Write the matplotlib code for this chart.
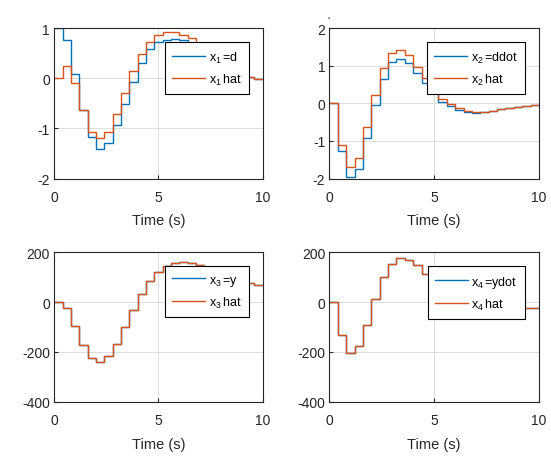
import matplotlib
matplotlib.use('Agg')
from matplotlib import pyplot as plt

plt.rcParams['font.family'] = ['Liberation Sans', 'DejaVu Sans']
plt.rcParams['axes.unicode_minus'] = False
plt.rcParams['mathtext.fontset'] = 'custom'
plt.rcParams['mathtext.rm'] = 'Liberation Sans'
plt.rcParams['mathtext.it'] = 'Liberation Sans'

# sample instants (s), step edges for the stairs
t_edges = [0.0, 0.4, 0.8, 1.2, 1.6, 2.0, 2.4, 2.8, 3.2, 3.6, 4.0, 4.4, 4.8,
           5.2, 5.6, 6.0, 6.4, 6.8, 7.2, 7.6, 8.0, 8.4, 8.8, 9.2, 9.6, 10.0]

# x1 = d and its estimate
x1 = [1.0, 0.76, 0.09, -0.64, -1.17, -1.41, -1.29, -0.94, -0.52, -0.07, 0.31, 0.59,
      0.73, 0.77, 0.78, 0.77, 0.70, 0.60, 0.50, 0.40, 0.30, 0.20, 0.11, 0.02, -0.01]
x1_hat = [0.0, 0.25, -0.09, -0.64, -1.08, -1.20, -1.07, -0.72, -0.29, 0.14, 0.49, 0.73,
          0.87, 0.93, 0.92, 0.87, 0.80, 0.68, 0.56, 0.44, 0.32, 0.20, 0.11, 0.02, -0.01]

# x2 = ddot and its estimate
x2 = [0.0, -1.26, -1.96, -1.74, -0.93, -0.05, 0.65, 1.09, 1.18, 1.07, 0.82, 0.54,
      0.28, 0.05, -0.08, -0.17, -0.23, -0.25, -0.23, -0.20, -0.16, -0.13, -0.10, -0.07, -0.04]
x2_hat = [0.0, -1.12, -1.70, -1.44, -0.63, 0.23, 0.95, 1.33, 1.42, 1.30, 0.98, 0.68,
          0.45, 0.12, -0.02, -0.13, -0.20, -0.23, -0.22, -0.19, -0.16, -0.13, -0.10, -0.07, -0.04]

# x3 = y and its estimate
x3 = [0, -25, -96, -172, -224, -239, -217, -167, -100, -32, 32, 84,
      120, 147, 157, 161, 158, 149, 139, 127, 115, 103, 90, 78, 68]
x3_hat = [0, -25, -96, -172, -224, -239, -217, -167, -100, -32, 32, 84,
          120, 147, 157, 161, 158, 149, 139, 127, 115, 103, 90, 78, 68]

# x4 = ydot and its estimate
x4 = [0, -131, -203, -176, -91, 13, 101, 155, 179, 169, 148, 113,
      75, 40, 12, -8, -20, -26, -29, -30, -29, -27, -25, -23, -22]
x4_hat = [0, -131, -203, -176, -91, 13, 101, 155, 179, 169, 148, 113,
          75, 40, 12, -8, -20, -26, -29, -30, -29, -27, -25, -23, -22]

blue = '#0072BD'
orange = '#D95319'

panels = [
    (x1, x1_hat, r'x$_1\,$=d', r'x$_1\,$hat', (-2, 1), [-2, -1, 0, 1]),
    (x2, x2_hat, r'x$_2\,$=ddot', r'x$_2\,$hat', (-2, 2), [-2, -1, 0, 1, 2]),
    (x3, x3_hat, r'x$_3\,$=y', r'x$_3\,$hat', (-400, 200), [-400, -200, 0, 200]),
    (x4, x4_hat, r'x$_4\,$=ydot', r'x$_4\,$hat', (-400, 200), [-400, -200, 0, 200]),
]

positions = [
    [0.0985, 0.613, 0.378, 0.324],
    [0.598, 0.613, 0.380, 0.324],
    [0.0985, 0.132, 0.378, 0.322],
    [0.598, 0.132, 0.380, 0.322],
]

fig = plt.figure(figsize=(5.51, 4.64), dpi=100)

for (meas, est, lab1, lab2, ylim, yticks), pos in zip(panels, positions):
    ax = fig.add_axes(pos)
    ax.stairs(meas, t_edges, color=blue, linewidth=1.0, label=lab1, baseline=None)
    ax.stairs(est, t_edges, color=orange, linewidth=1.0, label=lab2, baseline=None)
    ax.set_xlim(0, 10)
    ax.set_ylim(*ylim)
    ax.set_xticks([0, 5, 10])
    ax.set_yticks(yticks)
    ax.grid(True, color='#dcdcdc', linewidth=0.7)
    ax.set_axisbelow(True)
    ax.tick_params(direction='in', length=3, labelsize=10, colors='#262626')
    ax.tick_params(axis='x', pad=8)
    ax.tick_params(axis='y', pad=3)
    for sp in ax.spines.values():
        sp.set_color('#262626')
        sp.set_linewidth(0.8)
    ax.set_xlabel('Time (s)', fontsize=10.5, color='#262626', labelpad=7)
    leg = ax.legend(loc='upper right', bbox_to_anchor=(1, 1), borderaxespad=1.1,
                    fontsize=9, fancybox=False, framealpha=1, edgecolor='black',
                    handlelength=2.6, labelspacing=0.55, borderpad=0.6, handletextpad=0.3)
    leg.get_frame().set_linewidth(0.8)
    if lab1.endswith('ddot'):
        ax.text(-0.01, 1.03, "'", transform=ax.transAxes, fontsize=8, color='#262626')

fig.savefig('out.png', dpi=100)
plt.close(fig)
